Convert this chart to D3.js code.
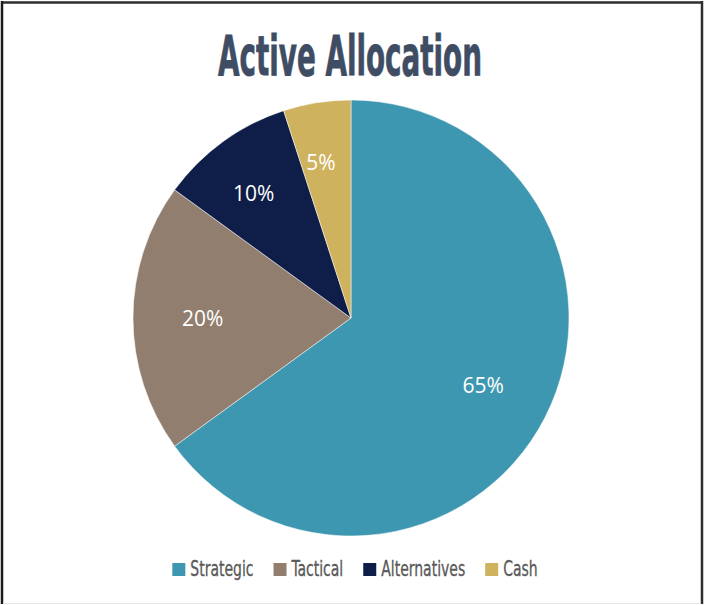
<!DOCTYPE html>
<html>
<head>
<meta charset="utf-8">
<script src="https://cdn.jsdelivr.net/npm/d3@7"></script>
<style>
  body { margin: 0; background: #fff; }
</style>
</head>
<body>
<div class="div_chart"></div>
<script>
const categories = ['Strategic', 'Tactical', 'Alternatives', 'Cash'];
const values = [65, 20, 10, 5];
const colors = ['#3d97b1', '#927e6e', '#0f1e48', '#cfb25e'];
const title = 'Active Allocation';

const width = 704;
const height = 605;
const cx = 351, cy = 318, radius = 218;
const squeeze = 0.74;

const svg = d3.select('.div_chart')
  .append('svg')
    .attr('width', width)
    .attr('height', height);

// frame
svg.append('rect')
  .attr('x', 0).attr('y', 0).attr('width', width).attr('height', height)
  .attr('fill', '#fff');
svg.append('line').attr('x1', 1).attr('x2', 703).attr('y1', 2.5).attr('y2', 2.5)
  .attr('stroke', '#2e2e2e').attr('stroke-width', 2.5);
svg.append('line').attr('x1', 2).attr('x2', 2).attr('y1', 1).attr('y2', 604)
  .attr('stroke', '#1e1a1a').attr('stroke-width', 2.5);
svg.append('line').attr('x1', 702).attr('x2', 702).attr('y1', 1).attr('y2', 604)
  .attr('stroke', '#2e2e2e').attr('stroke-width', 2.5);
svg.append('line').attr('x1', 3).attr('x2', 701).attr('y1', 603.5).attr('y2', 603.5)
  .attr('stroke', '#e4e4e4').attr('stroke-width', 1);

svg.append('text')
  .attr('x', 350)
  .attr('y', 75)
  .attr('text-anchor', 'middle')
  .attr('font-family', "'DejaVu Sans Condensed', sans-serif")
  .attr('font-size', '55px')
  .attr('font-weight', 'bold')
  .attr('fill', '#3e4c64')
  .attr('stroke', '#3e4c64')
  .attr('stroke-width', 0.8)
  .attr('textLength', 264)
  .attr('lengthAdjust', 'spacingAndGlyphs')
  .text(title);

const data = categories.map((c, i) => ({ name: c, value: values[i], color: colors[i] }));

const pie = d3.pie().sort(null).value(d => d.value);
const arc = d3.arc().innerRadius(0).outerRadius(radius);
const arcs = pie(data);

const g = svg.append('g').attr('transform', `translate(${cx},${cy})`);

g.selectAll('path')
  .data(arcs)
  .enter()
  .append('path')
  .attr('d', arc)
  .attr('fill', d => d.data.color)
  .attr('stroke', '#fff')
  .attr('stroke-width', 0.5);

// small slices get their labels pushed further out
const labelArc = d => {
  const small = d.data.value < 15;
  const r = small ? radius * 0.725 : radius * 0.68;
  const a = (d.startAngle + d.endAngle) / 2 - (small ? 0.035 : 0);
  return [Math.sin(a) * r, -Math.cos(a) * r];
};

g.selectAll('text.lbl')
  .data(arcs)
  .enter()
  .append('text')
  .attr('class', 'lbl')
  .attr('x', d => labelArc(d)[0])
  .attr('y', d => labelArc(d)[1])
  .attr('dy', '0.36em')
  .attr('text-anchor', 'middle')
  .attr('font-family', "'Open Sans', sans-serif")
  .attr('font-size', '21px')
  .attr('fill', '#fff')
  .text(d => d.data.value + '%');

// legend
const legend = svg.append('g');
const item = legend.selectAll('g')
  .data(data)
  .enter()
  .append('g');

item.append('rect')
  .attr('width', 13).attr('height', 13)
  .attr('y', -13)
  .attr('fill', d => d.color);

item.append('text')
  .attr('x', 18)
  .attr('y', 0)
  .attr('font-family', "'DejaVu Sans Condensed', sans-serif")
  .attr('font-size', '21px')
  .attr('fill', '#595959')
  .attr('stroke', '#595959')
  .attr('stroke-width', 0.3)
  .text(d => d.name)
  .each(function() {
    const w = this.getComputedTextLength();
    d3.select(this).attr('textLength', w * squeeze).attr('lengthAdjust', 'spacingAndGlyphs');
  });

let xPos = 0;
item.each(function() {
  const t = d3.select(this).select('text').node();
  const w = 18 + (+t.getAttribute('textLength'));
  d3.select(this).attr('transform', `translate(${xPos},0)`);
  xPos += w + 20;
});
const total = xPos - 20;
legend.attr('transform', `translate(${355 - total / 2},576)`);
</script>
</body>
</html>
